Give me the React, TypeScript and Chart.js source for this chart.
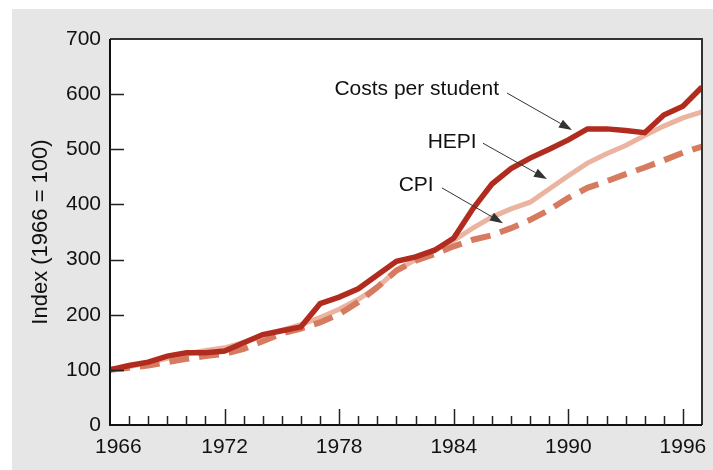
import React, { useEffect, useRef } from "react";
import { Chart, registerables } from "chart.js";

Chart.register(...registerables);

const years = [
  1966, 1967, 1968, 1969, 1970, 1971, 1972, 1973, 1974, 1975, 1976, 1977, 1978, 1979, 1980, 1981,
  1982, 1983, 1984, 1985, 1986, 1987, 1988, 1989, 1990, 1991, 1992, 1993, 1994, 1995, 1996, 1997,
];
const costsPerStudent = [
  100, 108, 114, 125, 131, 131, 134, 149, 164, 171, 178, 220, 232, 247, 272, 297,
  305, 317, 339, 392, 437, 465, 484, 500, 517, 537, 537, 534, 530, 562, 578, 613,
];
const hepi = [
  100, 106, 113, 121, 129, 135, 140, 150, 162, 172, 182, 195, 210, 228, 250, 280,
  300, 318, 335, 357, 377, 392, 404, 428, 452, 475, 492, 507, 525, 542, 557, 568,
];
const cpi = [
  100, 104, 108, 114, 120, 125, 129, 138, 152, 166, 175, 186, 201, 223, 250, 280,
  298, 310, 324, 336, 344, 357, 372, 390, 412, 430, 442, 455, 467, 480, 494, 505,
];
const xTickLabels = [1966, 1972, 1978, 1984, 1990, 1996];
const yTicks = [0, 100, 200, 300, 400, 500, 600, 700];
const yAxisTitle = "Index (1966 = 100)";

// annotation labels with arrow (text right anchor, arrow start, arrow tip in data units)
const annotations = [
  { text: "Costs per student", tx: 1986.37, ty: 609, ax: 1986.79, ay: 602, bx: 1990.19, by: 535 },
  { text: "HEPI", tx: 1985.2, ty: 513, ax: 1985.53, ay: 511, bx: 1988.88, by: 446 },
  { text: "CPI", tx: 1982.95, ty: 435, ax: 1983.38, ay: 430, bx: 1986.58, by: 366 },
];

const FONT = "'Liberation Sans', Arial, Helvetica, sans-serif";

const decorPlugin = {
  id: "decor",
  beforeDraw(chart: any) {
    const { ctx, chartArea: ca, width, height } = chart;
    ctx.save();
    ctx.fillStyle = "#ffffff";
    ctx.fillRect(0, 0, width, height);
    ctx.fillStyle = "#e6e6e6";
    ctx.fillRect(12, 9, width - 12, height - 9);
    ctx.fillStyle = "#ffffff";
    ctx.fillRect(ca.left, ca.top, ca.right - ca.left, ca.bottom - ca.top);
    ctx.restore();
  },
  afterDraw(chart: any) {
    const { ctx, chartArea: ca } = chart;
    const xs = chart.scales.x;
    const ys = chart.scales.y;
    ctx.save();
    // frame
    ctx.strokeStyle = "#333333";
    ctx.lineWidth = 2;
    ctx.beginPath();
    ctx.moveTo(ca.left, ca.top);
    ctx.lineTo(ca.right, ca.top);
    ctx.lineTo(ca.right, ca.bottom);
    ctx.stroke();
    ctx.strokeStyle = "#111111";
    ctx.beginPath();
    ctx.moveTo(ca.left, ca.top);
    ctx.lineTo(ca.left, ca.bottom);
    ctx.lineTo(ca.right, ca.bottom);
    ctx.stroke();
    // ticks
    ctx.lineWidth = 1.5;
    ctx.strokeStyle = "#222222";
    ctx.beginPath();
    for (const v of yTicks) {
      if (v === 0 || v === 700) continue;
      const y = Math.round(ys.getPixelForValue(v)) + 0.5;
      ctx.moveTo(ca.left, y);
      ctx.lineTo(ca.left + 14, y);
    }
    for (const yr of years) {
      if (yr === 1966 || yr === 1997) continue;
      const x = Math.round(xs.getPixelForValue(yr)) + 0.5;
      const major = xTickLabels.includes(yr);
      ctx.moveTo(x, ca.bottom);
      ctx.lineTo(x, ca.bottom - (major ? 16 : 9));
    }
    ctx.stroke();
    // x tick labels
    ctx.font = `21px ${FONT}`;
    ctx.fillStyle = "#111111";
    ctx.textBaseline = "middle";
    xTickLabels.forEach((v, i) => {
      const x = xs.getPixelForValue(v);
      if (i === 0) {
        ctx.textAlign = "left";
        ctx.fillText(String(v), x - 15, ca.bottom + 22);
      } else {
        ctx.textAlign = "center";
        ctx.fillText(String(v), x, ca.bottom + 22);
      }
    });
    // annotations
    ctx.textAlign = "right";
    for (const a of annotations) {
      ctx.fillStyle = "#111111";
      ctx.fillText(a.text, xs.getPixelForValue(a.tx), ys.getPixelForValue(a.ty));
      const x1 = xs.getPixelForValue(a.ax);
      const y1 = ys.getPixelForValue(a.ay);
      const x2 = xs.getPixelForValue(a.bx);
      const y2 = ys.getPixelForValue(a.by);
      const ang = Math.atan2(y2 - y1, x2 - x1);
      const hl = 13;
      const hw = 4.5;
      const bx = x2 - hl * Math.cos(ang);
      const by = y2 - hl * Math.sin(ang);
      ctx.strokeStyle = "#333333";
      ctx.lineWidth = 1;
      ctx.beginPath();
      ctx.moveTo(x1, y1);
      ctx.lineTo(bx, by);
      ctx.stroke();
      ctx.fillStyle = "#333333";
      ctx.beginPath();
      ctx.moveTo(x2, y2);
      ctx.lineTo(bx + hw * Math.sin(ang), by - hw * Math.cos(ang));
      ctx.lineTo(bx - hw * Math.sin(ang), by + hw * Math.cos(ang));
      ctx.closePath();
      ctx.fill();
    }
    ctx.restore();
  },
};

export default function App() {
  const ref = useRef<HTMLCanvasElement | null>(null);
  useEffect(() => {
    if (!ref.current) return;
    const pts = (arr: number[]) => years.map((y, i) => ({ x: y, y: arr[i] }));
    const chart = new Chart(ref.current, {
      type: "line",
      data: {
        datasets: [
          {
            label: "Costs per student",
            data: pts(costsPerStudent),
            borderColor: "#b22b1f",
            borderWidth: 5.5,
            pointRadius: 0,
            tension: 0,
            borderJoinStyle: "miter",
          },
          {
            label: "CPI",
            data: pts(cpi),
            borderColor: "#d67b60",
            borderWidth: 6,
            borderDash: [20, 10],
            pointRadius: 0,
            tension: 0,
          },
          {
            label: "HEPI",
            data: pts(hepi),
            borderColor: "#ebb4a0",
            borderWidth: 5,
            pointRadius: 0,
            tension: 0,
          },
        ],
      },
      options: {
        animation: false,
        responsive: false,
        maintainAspectRatio: false,
        devicePixelRatio: 1,
        layout: { padding: { top: 39, right: 11, left: 0, bottom: 0 } },
        plugins: { legend: { display: false }, tooltip: { enabled: false } },
        scales: {
          x: {
            type: "linear",
            min: 1966,
            max: 1997,
            grid: { display: false, drawTicks: false },
            border: { display: false },
            afterBuildTicks: (scale: any) => {
              scale.ticks = xTickLabels.map((v) => ({ value: v }));
            },
            afterFit: (scale: any) => {
              scale.height = 45;
            },
            ticks: { display: false },
          },
          y: {
            min: 0,
            max: 700,
            grid: { display: false, drawTicks: false },
            border: { display: false },
            afterBuildTicks: (scale: any) => {
              scale.ticks = yTicks.map((v) => ({ value: v }));
            },
            afterFit: (scale: any) => {
              scale.width = 110;
            },
            ticks: {
              padding: 9,
              color: "#111111",
              font: { family: FONT, size: 21 },
              callback: (v: any) => String(v),
            },
            title: {
              display: true,
              text: yAxisTitle,
              color: "#111111",
              font: { family: FONT, size: 22 },
              padding: { top: 28, bottom: 0 },
            },
          },
        },
      },
      plugins: [decorPlugin],
    });
    return () => chart.destroy();
  }, []);
  return (
    <div style={{ position: "fixed", left: 0, top: 0, width: 713, height: 470 }}>
      <canvas ref={ref} width={713} height={470} style={{ display: "block", width: 713, height: 470 }} />
    </div>
  );
}
